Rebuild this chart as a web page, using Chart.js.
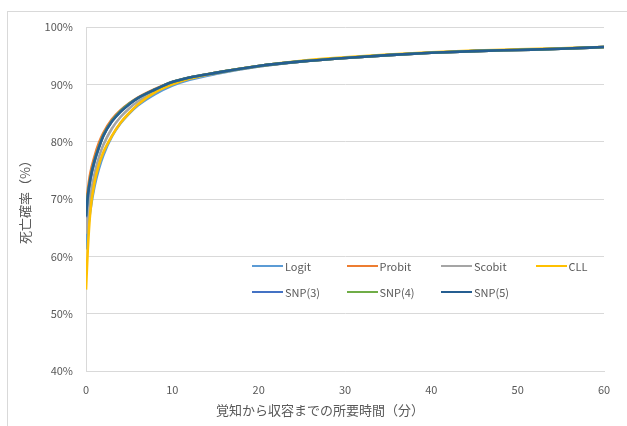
<!DOCTYPE html>
<html>
<head>
<meta charset="utf-8">
<script src="https://cdn.jsdelivr.net/npm/chart.js@4"></script>
<style>
  html,body{margin:0;padding:0;background:#fff;}
  #wrap{position:relative;width:627px;height:426px;overflow:hidden;}
  #frame{position:absolute;left:7px;top:11px;width:640px;height:430px;border:1px solid #d9d9d9;box-sizing:border-box;}
  #cv{position:absolute;left:0;top:0;}
  #legend{position:absolute;left:252px;top:258px;width:360px;font:11px "Noto Sans CJK JP","Noto Sans",sans-serif;color:#595959;}
  .li{position:absolute;display:flex;align-items:center;white-space:nowrap;}
  .li span.ln{display:inline-block;width:31px;height:2px;margin-right:2px;}
  #xtitle{position:absolute;left:0;width:640px;top:401px;text-align:center;font:13px "Noto Sans CJK JP","Noto Sans",sans-serif;color:#595959;line-height:18px;}
</style>
</head>
<body>
<div id="wrap">
  <div id="frame"></div>
  <canvas id="cv" width="627" height="426"></canvas>
  <div id="legend"></div>
  <div id="xtitle"></div>
</div>
<script>
// 経過時間(分)
const tiempos = [0, 0.2, 0.5, 1, 1.5, 2, 3, 4, 5, 6, 8, 10, 12, 15, 20, 25, 30, 35, 40, 45, 50, 55, 60];

// 各モデルの死亡確率(%)
const logit  = [61.2, 64.5, 68.0, 72.3, 75.3, 77.6, 80.9, 83.2, 84.9, 86.3, 88.3, 89.8, 90.8, 91.8, 93.1, 94.0, 94.6, 95.1, 95.5, 95.8, 96.0, 96.2, 96.5];
const probit = [69.0, 71.5, 74.5, 77.5, 79.8, 81.5, 83.9, 85.5, 86.7, 87.7, 89.2, 90.4, 91.2, 92.0, 93.2, 94.0, 94.6, 95.1, 95.5, 95.8, 96.0, 96.2, 96.5];
const scobit = [64.0, 67.3, 70.5, 74.5, 77.3, 79.4, 82.3, 84.3, 85.8, 87.0, 88.8, 90.1, 91.0, 91.9, 93.1, 94.0, 94.6, 95.1, 95.5, 95.8, 96.0, 96.2, 96.5];
const cll    = [54.2, 61.0, 67.8, 73.0, 76.0, 78.1, 81.0, 83.3, 85.0, 86.5, 88.6, 90.0, 91.0, 92.0, 93.2, 94.1, 94.7, 95.2, 95.6, 95.9, 96.1, 96.3, 96.5];
const snp3   = [66.8, 70.2, 73.3, 76.6, 79.0, 81.0, 83.6, 85.3, 86.6, 87.6, 89.1, 90.4, 91.2, 92.0, 93.2, 94.0, 94.6, 95.1, 95.5, 95.8, 96.0, 96.2, 96.5];
const snp4   = [67.2, 70.6, 73.6, 76.8, 79.1, 81.1, 83.6, 85.3, 86.6, 87.6, 89.1, 90.4, 91.2, 92.0, 93.2, 94.0, 94.6, 95.1, 95.5, 95.8, 96.0, 96.2, 96.5];
const snp5   = [67.0, 70.4, 73.5, 76.7, 79.0, 81.0, 83.5, 85.2, 86.5, 87.6, 89.1, 90.4, 91.2, 92.0, 93.2, 94.0, 94.6, 95.1, 95.5, 95.8, 96.0, 96.2, 96.5];

const nombres = ['Logit','Probit','Scobit','CLL','SNP(3)','SNP(4)','SNP(5)'];
const series  = [logit, probit, scobit, cll, snp3, snp4, snp5];
const colores = ['#5B9BD5','#ED7D31','#A5A5A5','#FFC000','#4472C4','#70AD47','#255E91'];

const xTicks = [0,10,20,30,40,50,60];
const yTicks = [40,50,60,70,80,90,100];
const tituloX = '覚知から収容までの所要時間（分）';
const tituloY = '死亡確率（%）';

const FONT = '"Noto Sans CJK JP","Noto Sans",sans-serif';
const GRIS = '#595959';

const datasets = series.map((vals,i)=>({
  label: nombres[i],
  data: vals.map((v,j)=>({x: tiempos[j], y: v})),
  borderColor: colores[i],
  backgroundColor: colores[i],
  borderWidth: 2.6,
  pointRadius: 0,
  cubicInterpolationMode: 'monotone',
  order: series.length - i   // la última serie queda encima
}));

new Chart(document.getElementById('cv'), {
  type: 'line',
  data: { datasets },
  options: {
    responsive: false,
    animation: false,
    devicePixelRatio: 1,
    layout: { padding: { left: 0, right: 23, top: 27, bottom: 0 } },
    plugins: { legend: { display: false }, tooltip: { enabled: false } },
    scales: {
      x: {
        type: 'linear', min: 0, max: 60,
        afterBuildTicks: (s)=>{ s.ticks = xTicks.map(v=>({value:v})); },
        afterFit: (s)=>{ s.height = 55; },
        grid: { display: false, drawTicks: false },
        border: { display: true, color: '#d9d9d9', width: 1 },
        ticks: { color: GRIS, font: { family: FONT, size: 11 }, padding: 12, maxRotation: 0 }
      },
      y: {
        min: 40, max: 100,
        afterBuildTicks: (s)=>{ s.ticks = yTicks.map(v=>({value:v})); },
        afterFit: (s)=>{ s.width = 86; },
        grid: { color: '#d9d9d9', drawTicks: false },
        border: { display: true, color: '#d9d9d9', width: 1 },
        ticks: { color: GRIS, font: { family: FONT, size: 11 }, padding: 13, callback: (v)=> v + '%' },
        title: { display: true, text: tituloY, color: GRIS, font: { family: FONT, size: 13 }, padding: { bottom: 0, top: 17 } }
      }
    }
  }
});

document.getElementById('xtitle').textContent = tituloX;

// Leyenda dentro del área de trazado (2 filas)
const leg = document.getElementById('legend');
nombres.forEach((n,i)=>{
  const d = document.createElement('div');
  d.className = 'li';
  d.style.left = ((i % 4) * 94.5) + 'px';
  d.style.top = (Math.floor(i / 4) * 26) + 'px';
  d.innerHTML = `<span class="ln" style="background:${colores[i]}"></span>${n}`;
  leg.appendChild(d);
});
</script>
</body>
</html>
